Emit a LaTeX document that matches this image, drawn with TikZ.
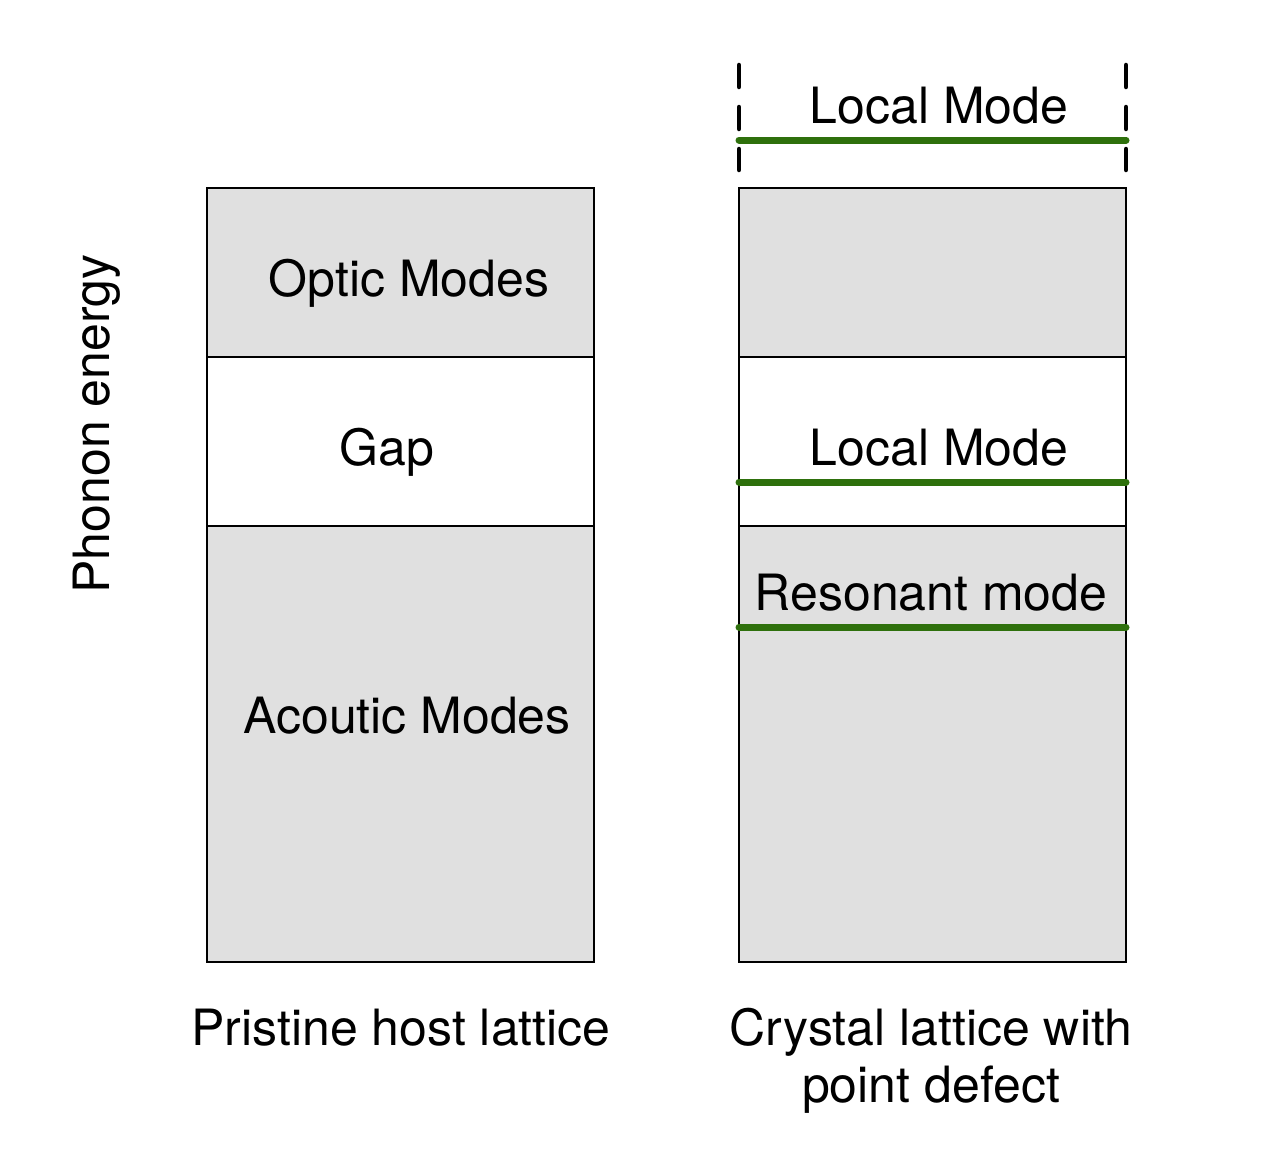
\documentclass[tikz,border=0pt]{standalone}
\usepackage{fontspec}
\setmainfont{TeX Gyre Heros}
\definecolor{bandgray}{RGB}{224,224,224}
\definecolor{modegreen}{RGB}{46,112,12}
\begin{document}
\begin{tikzpicture}[x=1pt,y=-1pt,
  band/.style={draw=black,line width=2.5pt},
  filled/.style={band,fill=bandgray},
  modeline/.style={draw=modegreen,line width=7pt,line cap=round},
  guide/.style={draw=black,line width=4.5pt,line cap=round,dash pattern=on 22pt off 20pt},
  lbl/.style={anchor=base,inner sep=0pt,font=\fontsize{50}{60}\selectfont}]
\useasboundingbox (0,0) rectangle (1276,1156);
% left column
\path[filled] (207,188) rectangle (594,357);
\path[band,fill=white] (207,357) rectangle (594,526);
\path[filled] (207,526) rectangle (594,962);
% right column
\path[filled] (739,188) rectangle (1126,357);
\path[band,fill=white] (739,357) rectangle (1126,526);
\path[filled] (739,526) rectangle (1126,962);
% dashed guides
\coordinate (gl1) at (739,65);
\coordinate (gl2) at (739,170);
\coordinate (gr1) at (1126,65);
\coordinate (gr2) at (1126,170);
\path[guide] (gl1) -- (gl2);
\path[guide] (gr1) -- (gr2);
% mode lines
\coordinate (m1a) at (739,140); \coordinate (m1b) at (1126,140);
\coordinate (m2a) at (739,482); \coordinate (m2b) at (1126,482);
\coordinate (m3a) at (739,627); \coordinate (m3b) at (1126,627);
\path[modeline] (m1a) -- (m1b);
\path[modeline] (m2a) -- (m2b);
\path[modeline] (m3a) -- (m3b);
% labels
\node[lbl] (optic) at (409,296) {Optic Modes};
\node[lbl] (gap) at (387,465) {Gap};
\node[lbl] (acou) at (407,733) {Acoutic Modes};
\node[lbl] (loc1) at (939,123) {Local Mode};
\node[lbl] (loc2) at (939,465) {Local Mode};
\node[lbl] (res) at (931,610) {Resonant mode};
\node[lbl] (prist) at (401,1045) {Pristine host lattice};
\node[lbl] (cry1) at (931,1045) {Crystal lattice with};
\node[lbl] (cry2) at (931,1102) {point defect};
\node[lbl,rotate=90] (energy) at (109,424) {Phonon energy};
\end{tikzpicture}
\end{document}
